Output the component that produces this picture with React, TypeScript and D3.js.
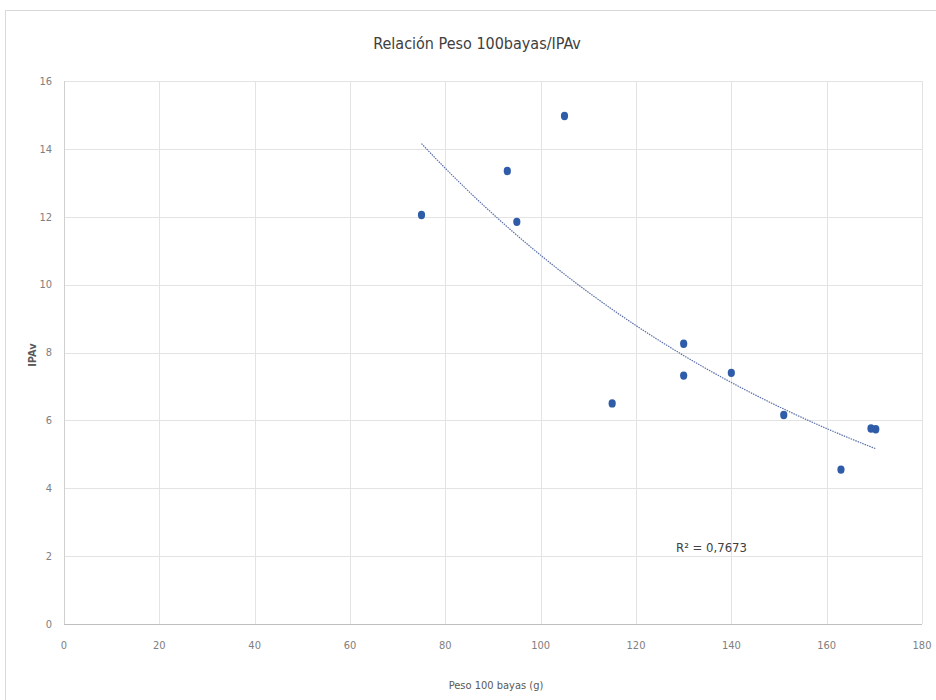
import { useEffect, useRef } from 'react';
import * as d3 from 'd3';

// Peso 100 bayas (g) vs IPAv
const pesoValues = [75, 93, 95, 105, 115, 130, 130, 140, 151, 163, 169.3, 170.3];
const ipavValues = [12.05, 13.35, 11.85, 14.97, 6.5, 8.26, 7.32, 7.4, 6.16, 4.55, 5.76, 5.74];
const xTicks = [0, 20, 40, 60, 80, 100, 120, 140, 160, 180];
const yTicks = [0, 2, 4, 6, 8, 10, 12, 14, 16];
const titleText = 'Relación Peso 100bayas/IPAv';
const xTitle = 'Peso 100 bayas (g)';
const yTitle = 'IPAv';
const r2Text = 'R² = 0,7673';

const FONT = '"Liberation Sans Narrow", "DejaVu Sans Condensed", Arial, sans-serif';

export default function App() {
    const svgRef = useRef<SVGSVGElement | null>(null);

    useEffect(() => {
        if (!svgRef.current) return;
        const svg = d3.select(svgRef.current);
        svg.selectAll('*').remove();

        const width = 936;
        const height = 700;

        const x = d3.scaleLinear().domain([0, 180]).range([64, 922]);
        const y = d3.scaleLinear().domain([0, 16]).range([624, 81]);

        svg.append('rect')
            .attr('width', width)
            .attr('height', height)
            .attr('fill', '#ffffff');

        // chart frame
        svg.append('rect')
            .attr('x', 5.5)
            .attr('y', 10.5)
            .attr('width', width)
            .attr('height', height)
            .attr('fill', 'none')
            .attr('stroke', '#d9d9d9');

        // gridlines
        svg.append('g')
            .selectAll('line')
            .data(yTicks.slice(1))
            .join('line')
            .attr('x1', x(0))
            .attr('x2', x(180))
            .attr('y1', d => Math.round(y(d)) + 0.5)
            .attr('y2', d => Math.round(y(d)) + 0.5)
            .attr('stroke', '#e3e3e3');

        svg.append('g')
            .selectAll('line')
            .data(xTicks.slice(1))
            .join('line')
            .attr('x1', d => Math.round(x(d)) + 0.5)
            .attr('x2', d => Math.round(x(d)) + 0.5)
            .attr('y1', y(0))
            .attr('y2', y(16))
            .attr('stroke', '#e3e3e3');

        // axes
        svg.append('line')
            .attr('x1', x(0)).attr('x2', x(180))
            .attr('y1', Math.round(y(0)) + 0.5).attr('y2', Math.round(y(0)) + 0.5)
            .attr('stroke', '#bfbfbf');
        svg.append('line')
            .attr('x1', Math.round(x(0)) + 0.5).attr('x2', Math.round(x(0)) + 0.5)
            .attr('y1', y(0)).attr('y2', y(16))
            .attr('stroke', '#d0d0d0');

        // tick labels
        svg.append('g')
            .selectAll('text')
            .data(yTicks)
            .join('text')
            .attr('x', 52)
            .attr('y', d => y(d))
            .attr('dy', '0.35em')
            .attr('text-anchor', 'end')
            .attr('font-family', FONT)
            .attr('font-size', 11)
            .attr('fill', '#808080')
            .text(d => d);

        svg.append('g')
            .selectAll('text')
            .data(xTicks)
            .join('text')
            .attr('x', d => x(d))
            .attr('y', 649)
            .attr('text-anchor', 'middle')
            .attr('font-family', FONT)
            .attr('font-size', 11)
            .attr('fill', '#808080')
            .text(d => d);

        // titles
        svg.append('text')
            .attr('x', 477)
            .attr('y', 49)
            .attr('text-anchor', 'middle')
            .attr('font-family', FONT)
            .attr('font-size', 16)
            .attr('fill', '#404040')
            .text(titleText);

        svg.append('text')
            .attr('x', 496)
            .attr('y', 689)
            .attr('text-anchor', 'middle')
            .attr('font-family', FONT)
            .attr('font-size', 11)
            .attr('fill', '#595959')
            .text(xTitle);

        svg.append('text')
            .attr('transform', 'translate(36,355) rotate(-90)')
            .attr('text-anchor', 'middle')
            .attr('font-family', FONT)
            .attr('font-size', 11)
            .attr('font-weight', 'bold')
            .attr('fill', '#595959')
            .text(yTitle);

        // exponential trend line: fit ln(y) = ln(a) + b x
        const n = pesoValues.length;
        const lnY = ipavValues.map(v => Math.log(v));
        const mx = d3.mean(pesoValues) as number;
        const my = d3.mean(lnY) as number;
        let sxy = 0;
        let sxx = 0;
        for (let i = 0; i < n; i++) {
            sxy += (pesoValues[i] - mx) * (lnY[i] - my);
            sxx += (pesoValues[i] - mx) ** 2;
        }
        const b = sxy / sxx;
        const a = Math.exp(my - b * mx);
        const [xMin, xMax] = d3.extent(pesoValues) as [number, number];
        const trend = d3.range(0, 61).map(i => {
            const xv = xMin + (xMax - xMin) * i / 60;
            return [xv, a * Math.exp(b * xv)] as [number, number];
        });

        const line = d3.line<[number, number]>()
            .x(d => x(d[0]))
            .y(d => y(d[1]));

        svg.append('path')
            .attr('d', line(trend))
            .attr('fill', 'none')
            .attr('stroke', '#5a6ea8')
            .attr('stroke-width', 1.2)
            .attr('stroke-dasharray', '1.5 1');

        // points
        svg.append('g')
            .selectAll('ellipse')
            .data(pesoValues.map((v, i) => [v, ipavValues[i]]))
            .join('ellipse')
            .attr('cx', d => x(d[0]))
            .attr('cy', d => y(d[1]))
            .attr('rx', 3.6)
            .attr('ry', 4.2)
            .attr('fill', '#2f5ca8');

        svg.append('text')
            .attr('x', 676)
            .attr('y', 552)
            .attr('font-family', FONT)
            .attr('font-size', 13)
            .attr('fill', '#404040')
            .text(r2Text);
    }, []);

    return (
        <svg
            ref={svgRef}
            width={936}
            height={700}
            style={{ position: 'absolute', left: 0, top: 0, display: 'block' }}
        ></svg>
    );
}
